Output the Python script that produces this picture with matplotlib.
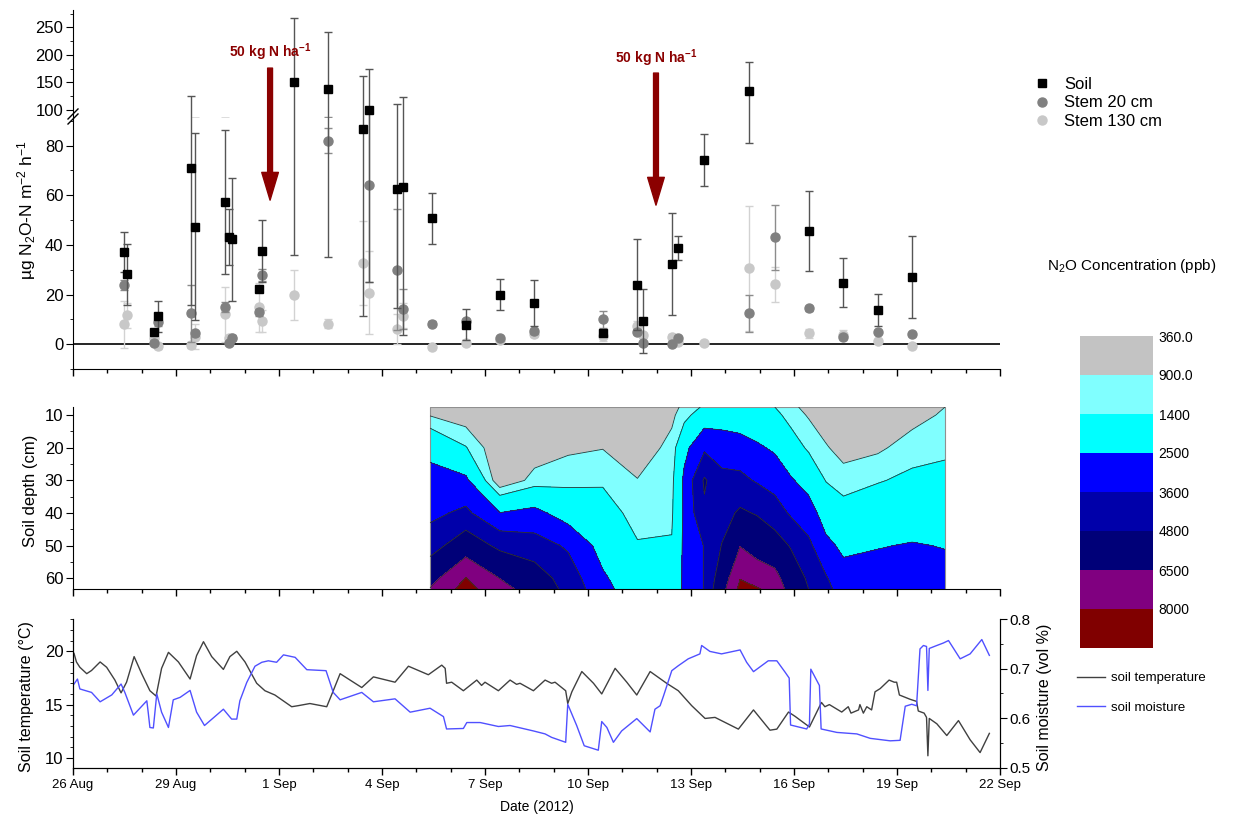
import matplotlib.pyplot as plt
import numpy as np
from matplotlib.lines import Line2D
from matplotlib.patches import Rectangle
from matplotlib.ticker import MultipleLocator

plt.rcParams["font.family"] = ["Liberation Sans", "DejaVu Sans"]
plt.rcParams["mathtext.fontset"] = "custom"
plt.rcParams["mathtext.rm"] = "Liberation Sans"
plt.rcParams["mathtext.it"] = "Liberation Sans:italic"
plt.rcParams["mathtext.bf"] = "Liberation Sans:bold"

W, H = 1234, 816

# x axis: days since 26 Aug 2012
date_ticks = np.arange(0, 28, 3)
date_labels = ["26 Aug", "29 Aug", "1 Sep", "4 Sep", "7 Sep", "10 Sep",
               "13 Sep", "16 Sep", "19 Sep", "22 Sep"]

# N2O fluxes (ug N2O-N m-2 h-1), mean and sd
soil_day = [1.49, 1.57, 2.37, 2.48, 3.43, 3.55, 4.43, 4.55, 4.64, 5.43, 5.51,
            6.44, 7.44, 8.44, 8.63, 9.43, 9.60, 10.45, 11.44, 12.43, 13.44,
            15.43, 16.44, 16.61, 17.44, 17.61, 18.39, 19.69, 21.43, 22.44,
            23.44, 24.44]
soil_flux = [37.1, 28.2, 4.8, 11.3, 70.8, 47.3, 57.3, 43.1, 42.2, 22.2, 37.6,
             151.3, 138.0, 86.7, 100.0, 62.4, 63.4, 50.7, 7.9, 20.0, 16.7,
             4.7, 24.0, 9.4, 32.4, 38.7, 74.1, 133.9, 45.6, 24.7,
             13.8, 27.0]
soil_sd = [8.0, 12.3, 1.0, 6.2, 55.0, 37.7, 28.9, 11.2, 24.8, 1.0, 12.4,
           115.5, 103.0, 75.5, 75.0, 48.0, 59.6, 10.3, 6.3, 6.3, 9.2,
           1.0, 18.2, 12.9, 20.6, 4.9, 10.4, 53.0, 16.0, 9.9,
           6.5, 16.6]

stem20_day = [1.49, 2.37, 2.48, 3.43, 3.55, 4.43, 4.55, 4.64, 5.43, 5.51,
              7.44, 8.63, 9.43, 9.60, 10.45, 11.44, 12.43, 13.44, 15.43,
              16.44, 16.61, 17.44, 17.61, 19.69, 20.44, 21.43, 22.44, 23.44,
              24.44]
stem20_flux = [23.9, 0.3, 8.8, 12.5, 4.4, 15.0, 0.3, 2.5, 12.8, 27.9,
               82.0, 64.1, 30.0, 14.1, 8.3, 9.3, 2.5, 5.2, 10.0,
               5.0, 0.3, 0.2, 2.3, 12.4, 43.0, 14.5, 3.0, 5.1,
               3.9]
stem20_sd = [2.0, 0.5, 1.5, 11.5, 1.0, 2.0, 0.5, 1.0, 1.5, 2.5,
             5.0, 38.9, 24.4, 8.0, 1.0, 1.0, 0.5, 1.0, 3.5,
             1.0, 0.5, 0.5, 0.5, 7.6, 13.0, 1.0, 0.5, 0.5,
             0.5]

stem130_day = [1.49, 1.57, 2.37, 2.48, 3.43, 3.55, 4.43, 4.55, 4.64, 5.43,
               5.51, 6.44, 7.44, 8.44, 8.63, 9.43, 9.60, 10.45, 11.44, 12.43,
               13.44, 15.43, 16.44, 16.61, 17.44, 17.61, 18.39, 19.69, 20.44,
               21.43, 22.44, 23.44, 24.44]
stem130_flux = [8.0, 11.7, 2.4, -0.8, -0.4, 3.0, 12.0, 2.6, 2.5, 14.8,
                9.3, 19.8, 8.3, 32.7, 20.8, 6.0, 11.4, -1.3, 0.5, 1.6,
                4.0, 3.2, 7.3, 3.6, 3.0, 1.0, 0.3, 30.5, 24.1,
                4.3, 3.8, 1.3, -0.8]
stem130_sd = [9.5, 5.0, 1.0, 1.0, 1.0, 5.0, 11.0, 1.0, 1.0, 10.0,
              4.5, 10.2, 1.8, 17.0, 16.6, 6.0, 5.0, 0.5, 1.0, 0.5,
              1.0, 2.0, 2.0, 1.0, 1.0, 0.5, 0.5, 25.3, 7.0,
              2.0, 2.0, 0.5, 0.5]

# fertilisation events
fert_day = [5.74, 16.98]

# soil N2O concentration profiles (ppb)
profile_depth = [7.5, 10, 20, 30, 40, 50, 60, 63.5]
profile_day = [10.40, 11.44, 12.43, 13.44, 14.42, 15.43, 16.44, 17.44, 17.80,
               18.39, 18.90, 19.43, 19.92, 20.44, 20.91, 21.43, 21.93, 22.44,
               23.44, 24.44, 25.40]
profile_ppb = [
    [600, 870, 2200, 2870, 3330, 4220, 5950, 6600],
    [450, 600, 1440, 2690, 3840, 5670, 8050, 8600],
    [400, 410, 430, 450, 2520, 4490, 6480, 7000],
    [400, 430, 600, 1080, 2800, 4100, 5500, 5900],
    [450, 500, 800, 1230, 2000, 3450, 4200, 4400],
    [500, 560, 880, 1320, 1700, 2100, 2650, 2850],
    [450, 470, 600, 920, 1180, 1450, 1750, 1850],
    [750, 800, 1050, 1200, 1300, 1450, 1700, 1800],
    [1000, 1150, 2200, 2700, 2650, 2700, 2700, 2700],
    [1500, 1900, 3400, 4950, 4600, 3650, 3650, 3650],
    [1600, 2000, 3100, 3900, 4300, 4850, 5600, 6000],
    [1500, 1850, 3000, 3850, 5000, 6450, 7950, 8400],
    [1600, 1800, 2650, 3500, 4700, 5950, 7250, 8200],
    [1400, 1600, 2350, 3150, 4150, 5400, 7000, 7500],
    [1050, 1150, 1800, 2600, 3450, 4700, 5600, 5900],
    [700, 850, 1280, 2100, 2950, 3850, 4600, 4800],
    [500, 600, 950, 1370, 2030, 2750, 3700, 4000],
    [400, 450, 700, 1120, 1700, 2300, 2850, 3000],
    [400, 450, 800, 1350, 1900, 2450, 2900, 3000],
    [600, 700, 1150, 1550, 2000, 2560, 2900, 3000],
    [900, 980, 1250, 1650, 2050, 2460, 2800, 2900],
]
conc_levels = [360, 900, 1400, 2500, 3600, 4800, 6500, 8000, 10000]
conc_labels = ["360.0", "900.0", "1400", "2500", "3600", "4800", "6500", "8000"]
conc_colors = ["#C3C3C3", "#80FFFF", "#00FFFF", "#0000FF", "#0000AA",
               "#000078", "#800080", "#800000"]

# soil temperature (deg C) and moisture (vol fraction)
temp_day = [0.03, 0.1, 0.2, 0.4, 0.54, 0.79, 0.98, 1.22, 1.4, 1.56, 1.78, 2.0,
            2.24, 2.42, 2.58, 2.78, 3.07, 3.41, 3.6, 3.8, 4.04, 4.38, 4.57,
            4.77, 5.01, 5.35, 5.59, 5.88, 6.37, 6.56, 6.9, 7.39, 7.53, 7.78,
            8.07, 8.41, 8.75, 9.38, 9.77, 10.35, 10.74, 10.84, 10.88, 11.03,
            11.37, 11.76, 11.9, 12.0, 12.39, 12.73, 12.92, 13.02, 13.41, 13.75,
            13.94, 14.04, 14.35, 14.41, 14.53, 14.82, 15.16, 15.4, 15.79,
            16.13, 16.42, 16.81, 17.29, 17.63, 18.02, 18.41, 18.7, 19.38,
            19.82, 20.3, 20.5, 20.84, 21.03, 21.45, 21.8, 21.9, 22.03, 22.39,
            22.58, 22.66, 22.88, 22.92, 23.02, 23.12, 23.26, 23.36, 23.51,
            23.77, 23.92, 23.99, 24.07, 24.38, 24.57, 24.62, 24.79, 24.86,
            24.9, 24.94, 25.16, 25.45, 25.79, 26.13, 26.42, 26.69]
temp_val = [19.8, 19.0, 18.5, 17.9, 18.2, 19.0, 18.5, 17.3, 16.1, 17.1, 19.5,
            17.9, 16.3, 15.8, 18.4, 19.9, 19.0, 17.4, 19.6, 20.9, 19.5, 18.3,
            19.5, 20.0, 19.0, 17.0, 16.3, 15.9, 14.8, 14.9, 15.1, 14.8, 15.9,
            17.9, 17.3, 16.6, 17.6, 17.1, 18.6, 17.8, 18.7, 18.4, 17.0, 17.1,
            16.3, 17.3, 16.8, 17.1, 16.3, 17.3, 16.9, 17.0, 16.3, 17.3,
            17.0, 17.1, 16.3, 15.1, 16.2, 18.1, 17.0, 16.0, 18.4,
            17.1, 15.9, 18.1, 17.0, 16.3, 14.9, 13.7, 13.8, 12.7,
            14.5, 12.6, 12.7, 14.3, 13.9, 12.9, 15.2, 14.8, 15.0, 14.3,
            14.8, 14.2, 14.5, 15.0, 14.2, 14.8, 14.5, 16.2, 16.5,
            17.3, 17.1, 17.1, 15.9, 15.5, 15.3, 14.4, 14.2, 13.8,
            10.2, 13.7, 13.2, 12.1, 13.5, 11.7, 10.5, 12.3]

moist_day = [0.03, 0.13, 0.2, 0.54, 0.79, 1.13, 1.4, 1.51, 1.76, 2.15, 2.19,
             2.24, 2.34, 2.44, 2.58, 2.78, 2.92, 3.12, 3.41, 3.6, 3.83, 4.38,
             4.62, 4.77, 4.86, 5.06, 5.3, 5.5, 5.69, 5.93, 6.13, 6.47, 6.81,
             7.37, 7.58, 7.78, 8.41, 8.75, 9.38, 9.82, 10.4, 10.79, 10.88,
             11.37, 11.47, 11.86, 12.39, 12.73, 13.41, 13.75, 13.94, 14.35,
             14.41, 14.67, 14.89, 15.3, 15.4, 15.55, 15.74, 15.98, 16.42,
             16.81, 16.95, 17.1, 17.2, 17.44, 17.63, 17.92, 18.26, 18.31,
             18.55, 18.89, 19.43, 19.62, 19.82, 20.25, 20.5, 20.74, 20.86,
             20.9, 21.37, 21.45, 21.49, 21.74, 21.79, 22.25, 22.83, 23.22,
             23.8, 24.09, 24.24, 24.43, 24.57, 24.67, 24.77, 24.86, 24.9,
             24.94, 25.16, 25.35, 25.5, 25.84, 26.13, 26.47, 26.69]
moist_val = [0.669, 0.679, 0.659, 0.652, 0.633, 0.647, 0.669, 0.652, 0.606,
             0.635, 0.612, 0.581, 0.580, 0.649, 0.612, 0.581, 0.637, 0.642,
             0.656, 0.612, 0.585, 0.618, 0.598, 0.598, 0.635, 0.672, 0.705,
             0.713, 0.716, 0.713, 0.728, 0.723, 0.698, 0.696, 0.652, 0.637,
             0.652, 0.633, 0.639, 0.612, 0.620, 0.603, 0.578, 0.579, 0.591,
             0.591, 0.583, 0.585, 0.574, 0.568, 0.561, 0.551, 0.628, 0.585,
             0.544, 0.535, 0.593, 0.581, 0.551, 0.574, 0.599, 0.572, 0.618,
             0.625, 0.645, 0.696, 0.706, 0.720, 0.730, 0.747, 0.735, 0.730,
             0.738, 0.713, 0.694, 0.716, 0.716, 0.693, 0.681, 0.586, 0.578,
             0.588, 0.699, 0.666, 0.578, 0.571, 0.568, 0.559, 0.554, 0.555,
             0.624, 0.628, 0.625, 0.740, 0.747, 0.745, 0.656, 0.741, 0.747,
             0.752, 0.757, 0.720, 0.730, 0.759, 0.727]

RED = "#8B0000"
BREAK = 92  # values above go on the upper (compressed) part of the flux axis


def px_box(x0, y0, x1, y1):
    return [x0 / W, 1 - y1 / H, (x1 - x0) / W, (y1 - y0) / H]


def date_axis(ax, labels):
    ax.set_xlim(0, 27)
    ax.xaxis.set_major_locator(MultipleLocator(3))
    ax.xaxis.set_minor_locator(MultipleLocator(1))
    ax.tick_params(axis="x", which="major", direction="out", length=5, width=1)
    ax.tick_params(axis="x", which="minor", direction="out", length=3, width=1)
    if labels:
        ax.set_xticks(date_ticks)
        ax.set_xticklabels(date_labels, fontsize=9.5)
    else:
        ax.tick_params(axis="x", labelbottom=False)


fig = plt.figure(figsize=(W / 100, H / 100), dpi=100)

# ---- flux panel (broken axis) ----
ax_up = fig.add_axes(px_box(73, 10, 1000, 118))
ax_low = fig.add_axes(px_box(73, 118, 1000, 369))

series = [
    (stem130_day, stem130_flux, stem130_sd, "o", "#C8C8C8", "#D2D2D2", 6.5),
    (stem20_day, stem20_flux, stem20_sd, "o", "#808080", "#8C8C8C", 6.5),
    (soil_day, soil_flux, soil_sd, "s", "black", "#555555", 5.5),
]
for ax, upper in ((ax_up, True), (ax_low, False)):
    for d, f, sd, mk, col, ecol, ms in series:
        d = np.array(d)
        f = np.array(f)
        ax.errorbar(d, f, yerr=sd, fmt="none", ecolor=ecol, elinewidth=1,
                    capsize=3, capthick=1)
        keep = f >= BREAK if upper else f < BREAK
        ax.plot(d[keep], f[keep], ls="none", marker=mk, color=col, ms=ms,
                mec=col)
    ax.set_xlim(0, 27)
    for s in ("top", "right"):
        ax.spines[s].set_visible(False)
    ax.tick_params(axis="y", which="major", length=5, labelsize=12, pad=2)
    ax.tick_params(axis="y", which="minor", length=2.5)

ax_up.set_ylim(85.5, 281.4)
ax_up.set_yticks([100, 150, 200, 250])
ax_up.yaxis.set_minor_locator(MultipleLocator(25))
ax_up.spines["bottom"].set_visible(False)
ax_up.tick_params(axis="x", which="both", bottom=False, labelbottom=False)

ax_low.set_ylim(-10, 91.1)
ax_low.set_yticks([0, 20, 40, 60, 80])
ax_low.yaxis.set_minor_locator(MultipleLocator(10))
ax_low.axhline(0, color="black", lw=1.2, zorder=1)
date_axis(ax_low, False)

# axis break marks
for off in (0.0, 0.02):
    ax_low.plot([-0.0054, 0.0054], [0.976 + off, 1.016 + off], color="black",
                lw=1, transform=ax_low.transAxes, clip_on=False)

fig.text(27 / W, 1 - 210 / H, "µg N$_2$O-N m$^{-2}$ h$^{-1}$", rotation=90,
         ha="center", va="center", fontsize=12.5)

# fertilisation arrows
label_y = [205, 194]
start_y = [176, 167]
tip_y = [58, 56]
for d, ly, sy, ty in zip(fert_day, label_y, start_y, tip_y):
    ax_up.text(d, ly, "50 kg N ha$^{\\mathbf{-1}}$", ha="center", va="center",
               color=RED, fontweight="bold", fontsize=10)
    ax_low.annotate("", xy=(d, ty), xycoords="data", xytext=(d, sy),
                    textcoords=ax_up.transData, annotation_clip=False,
                    arrowprops=dict(facecolor=RED, edgecolor=RED, width=3.5,
                                    headwidth=12, headlength=20, shrink=0),
                    zorder=6)

handles = [
    Line2D([], [], ls="none", marker="s", color="black", ms=5.5),
    Line2D([], [], ls="none", marker="o", color="#808080", ms=6.5),
    Line2D([], [], ls="none", marker="o", color="#C8C8C8", ms=6.5),
]
fig.legend(handles, ["Soil", "Stem 20 cm", "Stem 130 cm"], loc="upper left",
           bbox_to_anchor=(1034 / W, 1 - 77 / H), frameon=False, fontsize=12,
           handlelength=1.0, handletextpad=0.8, labelspacing=0.2,
           borderpad=0, borderaxespad=0)

# ---- concentration profile panel ----
ax_mid = fig.add_axes(px_box(73, 407, 1000, 589))
Z = np.array(profile_ppb).T
cs = ax_mid.contourf(profile_day, profile_depth, Z, levels=conc_levels,
                     colors=conc_colors)
ax_mid.contour(profile_day, profile_depth, Z, levels=conc_levels[1:-1],
               colors="#333333", linewidths=0.6)
ax_mid.add_patch(Rectangle((profile_day[0], profile_depth[0]),
                           profile_day[-1] - profile_day[0],
                           profile_depth[-1] - profile_depth[0],
                           fill=False, ec="#909090", lw=0.8))
ax_mid.set_ylim(63.3, 7.5)
ax_mid.set_yticks([10, 20, 30, 40, 50, 60])
ax_mid.yaxis.set_minor_locator(MultipleLocator(5))
ax_mid.tick_params(axis="y", which="major", length=5, labelsize=12, pad=2)
ax_mid.tick_params(axis="y", which="minor", length=2.5)
for s in ("top", "right"):
    ax_mid.spines[s].set_visible(False)
date_axis(ax_mid, False)
fig.text(30 / W, 1 - 491 / H, "Soil depth (cm)", rotation=90,
         ha="center", va="center", fontsize=12)

cax = fig.add_axes(px_box(1080, 336, 1153, 648))
cb = fig.colorbar(cs, cax=cax, ticks=conc_levels[:-1])
cax.invert_yaxis()
cb.ax.set_yticklabels(conc_labels)
cax.tick_params(length=0, labelsize=10, pad=4)
cb.outline.set_visible(False)
fig.text(1132 / W, 1 - 266 / H, "N$_2$O Concentration (ppb)", ha="center",
         va="center", fontsize=11)

# ---- temperature / moisture panel ----
ax_bot = fig.add_axes(px_box(73, 619.3, 1000, 767.5))
ax_bot.plot(temp_day, temp_val, color="#404040", lw=1)
ax_bot.set_ylim(9.1, 23.0)
ax_bot.set_yticks([10, 15, 20])
ax_bot.yaxis.set_minor_locator(MultipleLocator(1))
ax_bot.tick_params(axis="y", which="major", length=5, labelsize=12, pad=2)
ax_bot.tick_params(axis="y", which="minor", length=2.5)
ax_bot.spines["top"].set_visible(False)
date_axis(ax_bot, True)
ax_bot.set_xlabel("Date (2012)", fontsize=10, labelpad=6)

ax_r = ax_bot.twinx()
ax_r.plot(moist_day, moist_val, color="#5050FF", lw=1)
ax_r.set_ylim(0.5, 0.8)
ax_r.set_yticks([0.5, 0.6, 0.7, 0.8])
ax_r.yaxis.set_minor_locator(MultipleLocator(0.05))
ax_r.tick_params(axis="y", which="major", length=5, labelsize=11, pad=2)
ax_r.tick_params(axis="y", which="minor", length=2.5)
ax_r.spines["top"].set_visible(False)

fig.text(27 / W, 1 - 697 / H, "Soil temperature (°C)", rotation=90,
         ha="center", va="center", fontsize=11.5)
fig.text(1045 / W, 1 - 697 / H, "Soil moisture (vol %)", rotation=90,
         ha="center", va="center", fontsize=11.5)

fig.legend([Line2D([], [], color="#404040", lw=1),
            Line2D([], [], color="#5050FF", lw=1)],
           ["soil temperature", "soil moisture"], loc="upper left",
           bbox_to_anchor=(1077 / W, 1 - 672 / H), frameon=False, fontsize=9.5,
           handlelength=2.1, handletextpad=0.45, labelspacing=1.3,
           borderpad=0, borderaxespad=0)

fig.savefig("out.png", dpi=100)
